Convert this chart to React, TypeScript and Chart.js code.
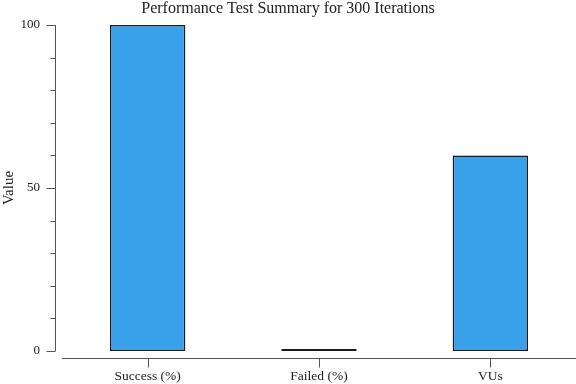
import React, { useEffect, useRef } from "react";
import { Chart, registerables } from "chart.js";

Chart.register(...registerables);

const categories = ["Success (%)", "Failed (%)", "VUs"];
const values = [100, 0, 60];
const labeledTicks = [0, 50, 100];
const titleText = "Performance Test Summary for 300 Iterations";
const yAxisTitle = "Value";

const FONT = "'Liberation Serif', 'Times New Roman', serif";
const SPINE_GAP = 7;

// Detached spines: the axis lines sit a few pixels away from the plot area.
const detachedSpines = {
  id: "detachedSpines",
  afterDraw(chart: any) {
    const { ctx, chartArea, scales } = chart;
    const xs = scales.x;
    const ys = scales.y;
    ctx.save();
    ctx.strokeStyle = "#555555";
    ctx.lineWidth = 1;
    const line = (x1: number, y1: number, x2: number, y2: number) => {
      ctx.beginPath();
      ctx.moveTo(x1, y1);
      ctx.lineTo(x2, y2);
      ctx.stroke();
    };
    const sx = Math.round(chartArea.left - SPINE_GAP) + 0.5;
    line(sx, ys.getPixelForValue(ys.max), sx, ys.getPixelForValue(ys.min));
    ys.ticks.forEach((t: any) => {
      const py = Math.round(ys.getPixelForValue(t.value)) + 0.5;
      const len = labeledTicks.includes(t.value) ? 9 : 5;
      line(sx - len, py, sx, py);
    });
    const sy = Math.round(chartArea.bottom + SPINE_GAP) + 0.5;
    line(chartArea.left, sy, chartArea.right, sy);
    xs.ticks.forEach((_t: any, i: number) => {
      const px = Math.round(xs.getPixelForValue(i)) + 0.5;
      line(px, sy, px, sy + 9);
    });
    ctx.restore();
  },
};

export default function App() {
  const canvasRef = useRef<HTMLCanvasElement | null>(null);

  useEffect(() => {
    document.body.style.margin = "0";
    const canvas = canvasRef.current;
    if (!canvas) return;
    const chart = new Chart(canvas, {
      type: "bar",
      data: {
        labels: categories,
        datasets: [
          {
            data: values,
            backgroundColor: "#39a0ea",
            borderColor: "#1b1b1b",
            borderWidth: 1.5,
            borderSkipped: false,
            minBarLength: 2,
            barPercentage: 0.44,
            categoryPercentage: 1,
          },
        ],
      },
      options: {
        animation: false,
        responsive: false,
        layout: { padding: { left: 0, right: 0, top: 0, bottom: 0 } },
        plugins: {
          legend: { display: false },
          tooltip: { enabled: false },
          title: {
            display: true,
            text: titleText,
            color: "#222222",
            font: { family: FONT, size: 16, weight: "normal", lineHeight: 1.1 },
            padding: { top: 0, bottom: 7.4 },
          },
        },
        scales: {
          x: {
            grid: { display: false, drawTicks: false },
            border: { display: false },
            ticks: {
              color: "#222222",
              font: { family: FONT, size: 13.5 },
              padding: 17,
              maxRotation: 0,
            },
            afterFit: (scale: any) => {
              scale.height = 33;
              scale.paddingLeft = 0;
              scale.paddingRight = 0;
            },
          },
          y: {
            min: 0,
            max: 100,
            grid: { display: false, drawTicks: false },
            border: { display: false },
            ticks: {
              stepSize: 10,
              color: "#222222",
              font: { family: FONT, size: 13 },
              padding: 22,
              callback: (v: any) => (labeledTicks.includes(Number(v)) ? String(v) : ""),
            },
            title: {
              display: true,
              text: yAxisTitle,
              color: "#222222",
              font: { family: FONT, size: 15 },
              padding: { top: 0, bottom: 0 },
            },
            afterFit: (scale: any) => {
              scale.width = 62;
              scale.paddingTop = 0;
              scale.paddingBottom = 0;
            },
          },
        },
      },
      plugins: [detachedSpines],
    });
    return () => chart.destroy();
  }, []);

  return (
    <div style={{ width: 576, height: 384 }}>
      <canvas ref={canvasRef} width={576} height={384} style={{ display: "block" }} />
    </div>
  );
}
